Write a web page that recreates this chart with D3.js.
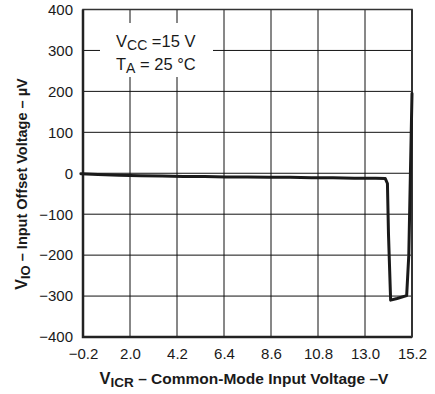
<!DOCTYPE html>
<html lang="en">
<head>
    <meta charset="UTF-8">
    <title>Input Offset Voltage vs Common-Mode Input Voltage</title>
    <script src="https://cdn.jsdelivr.net/npm/d3@7"></script>
    <style>
        body { margin: 0; background: #fff; }
        svg text { font-family: "Liberation Sans", Arial, sans-serif; fill: #1a1a1a; }
        .grid line { stroke: #111; stroke-width: 1; }
    </style>
</head>
<body>
<script type="text/javascript">

    // data
    var vicr = [-0.3, 0.5, 1.5, 2.5, 3.5, 4.5, 5.5, 6.5, 7.5, 8.5, 9.5, 10.5, 11.5, 12.5, 13.5, 13.95, 14.05, 14.1, 14.2, 14.5, 14.95, 15.05, 15.2];
    var vio  = [-1, -3, -5, -6, -7, -8, -8, -9, -9, -10, -10, -11, -11, -12, -12, -13, -25, -150, -310, -306, -299, -200, 195];

    var xTicks = [-0.2, 2.0, 4.2, 6.4, 8.6, 10.8, 13.0, 15.2];
    var yTicks = [-400, -300, -200, -100, 0, 100, 200, 300, 400];

    var w = 435, h = 394;
    var margin = {top: 9.5, right: 23, bottom: 57, left: 83};

    var x = d3.scaleLinear().domain([-0.2, 15.2]).range([margin.left, w - margin.right]);
    var y = d3.scaleLinear().domain([-400, 400]).range([h - margin.bottom, margin.top]);

    var svg = d3.select("body").append("svg")
        .attr("width", w)
        .attr("height", h);

    // grid
    var grid = svg.append("g").attr("class", "grid");
    grid.selectAll(".vx")
        .data(xTicks.slice(1, -1))
        .enter().append("line")
        .attr("x1", function(d) { return x(d); })
        .attr("x2", function(d) { return x(d); })
        .attr("y1", y(400))
        .attr("y2", y(-400));
    grid.selectAll(".hy")
        .data(yTicks.slice(1, -1))
        .enter().append("line")
        .attr("x1", x(-0.2))
        .attr("x2", x(15.2))
        .attr("y1", function(d) { return y(d); })
        .attr("y2", function(d) { return y(d); });

    // white box behind the conditions text
    svg.append("rect")
        .attr("x", 100).attr("y", 23)
        .attr("width", 113).attr("height", 54)
        .attr("fill", "#fff");

    var cond = svg.append("text").attr("font-size", "16.5px");
    var l1 = cond.append("tspan").attr("x", 116).attr("y", 47);
    l1.append("tspan").text("V");
    l1.append("tspan").attr("font-size", "14px").attr("dy", 3).text("CC");
    l1.append("tspan").attr("dy", -3).text(" =15 V");
    var l2 = cond.append("tspan").attr("x", 116).attr("y", 70);
    l2.append("tspan").text("T");
    l2.append("tspan").attr("font-size", "14px").attr("dy", 3).text("A");
    l2.append("tspan").attr("dy", -3).text(" = 25 °C");

    // frame
    svg.append("rect")
        .attr("x", x(-0.2)).attr("y", y(400))
        .attr("width", x(15.2) - x(-0.2))
        .attr("height", y(-400) - y(400))
        .attr("fill", "none")
        .attr("stroke", "#333")
        .attr("stroke-width", 1.5);
    svg.append("path")
        .attr("d", "M" + x(-0.2) + "," + y(400) + "V" + y(-400) + "H" + x(15.2))
        .attr("fill", "none")
        .attr("stroke", "#222")
        .attr("stroke-width", 2.5);
    svg.append("line")
        .attr("x1", x(15.2)).attr("x2", x(15.2))
        .attr("y1", y(400)).attr("y2", y(-400))
        .attr("stroke", "#333").attr("stroke-width", 2);

    // curve
    var line = d3.line()
        .x(function(d) { return x(d[0]); })
        .y(function(d) { return y(d[1]); });
    svg.append("path")
        .datum(d3.zip(vicr, vio))
        .attr("d", line)
        .attr("fill", "none")
        .attr("stroke", "#1a1a1a")
        .attr("stroke-width", 3)
        .attr("stroke-linejoin", "round")
        .attr("stroke-linecap", "round");

    // axes labels
    var xAxis = d3.axisBottom(x).tickValues(xTicks).tickFormat(d3.format(".1f")).tickSize(0).tickPadding(11);
    var gx = svg.append("g").attr("transform", "translate(0," + y(-400) + ")").call(xAxis);
    gx.select(".domain").remove();
    gx.selectAll("text").attr("font-size", "15px").attr("fill", "#1a1a1a").attr("font-family", null);

    var yAxis = d3.axisLeft(y).tickValues(yTicks).tickFormat(d3.format("d")).tickSize(0).tickPadding(10);
    var gy = svg.append("g").attr("transform", "translate(" + x(-0.2) + ",0)").call(yAxis);
    gy.select(".domain").remove();
    gy.selectAll("text").attr("font-size", "15px").attr("fill", "#1a1a1a").attr("font-family", null);

    // x title
    var xt = svg.append("text")
        .attr("x", 244)
        .attr("y", 384)
        .attr("text-anchor", "middle")
        .attr("font-weight", "bold")
        .attr("font-size", "15.5px");
    xt.append("tspan").attr("font-size", "16.5px").text("V");
    xt.append("tspan").attr("font-size", "13.5px").attr("dy", 3).text("ICR");
    xt.append("tspan").attr("dy", -3).text(" – Common-Mode Input Voltage –V");

    // y title
    var yt = svg.append("text")
        .attr("transform", "translate(27," + 184 + ") rotate(-90)")
        .attr("text-anchor", "middle")
        .attr("font-weight", "bold")
        .attr("font-size", "14.5px");
    yt.append("tspan").attr("font-size", "16px").text("V");
    yt.append("tspan").attr("font-size", "13px").attr("dy", 3).text("IO");
    yt.append("tspan").attr("dy", -3).text(" – Input Offset Voltage – µV");

</script>
</body>
</html>
